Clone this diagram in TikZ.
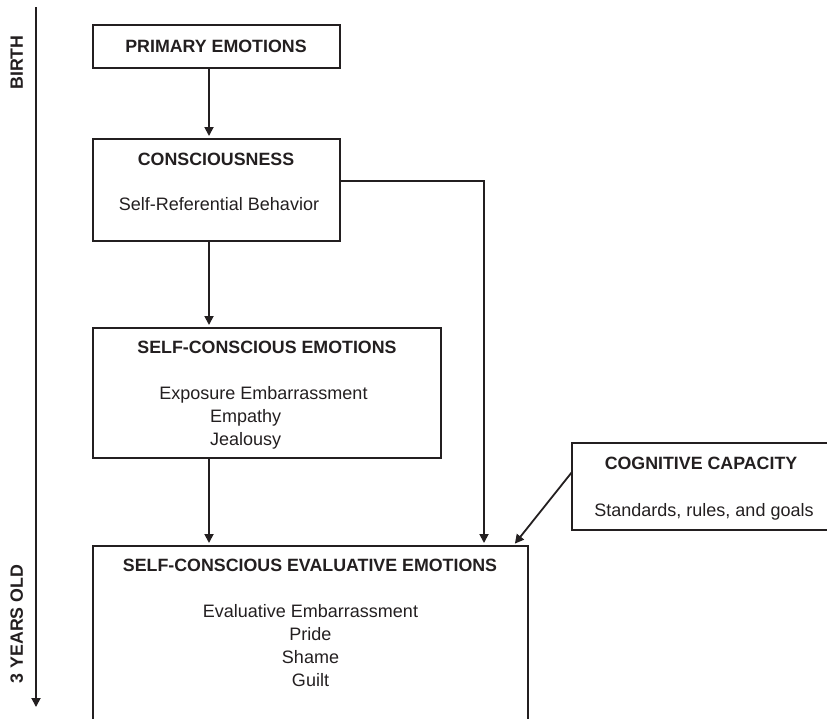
\documentclass[tikz,border=0pt]{standalone}
\usepackage{fontspec}
\setmainfont{Liberation Sans}
\usetikzlibrary{arrows.meta}
\definecolor{ink}{HTML}{231F20}
\tikzset{
  box/.style={draw=ink, line width=1.8pt, inner sep=0pt, outer sep=0pt, anchor=north west},
  ttl/.style={text=ink, inner sep=0pt, anchor=base, font=\fontsize{17.8}{20}\selectfont\bfseries},
  bdy/.style={text=ink, inner sep=0pt, anchor=base, font=\fontsize{18}{22}\selectfont},
  side/.style={text=ink, inner sep=0pt, anchor=base, rotate=90, font=\fontsize{17.8}{20}\selectfont\bfseries},
  arr/.style={draw=ink, line width=1.8pt, -{Triangle[length=9pt,width=9pt]}, shorten >=3pt},
}
\begin{document}
\begin{tikzpicture}[x=1pt,y=-1pt]
\useasboundingbox (0,0) rectangle (827,718);
\clip (0,0) rectangle (827,718);
% timeline
\coordinate (tTop) at (36,7);
\coordinate (tBot) at (36,707);
\draw[arr, shorten >=0pt] (tTop) -- (tBot);
\node[side] (birth) at (23,62.5) {BIRTH};
\node[side] (three) at (23,624) {3 YEARS OLD};
% boxes
\node[box, minimum width=247pt, minimum height=43pt] (P) at (93,25) {};
\node[box, minimum width=247pt, minimum height=102pt] (C) at (93,139) {};
\node[box, minimum width=348pt, minimum height=130pt] (S) at (93,328) {};
\node[box, minimum width=435pt, minimum height=220pt] (E) at (93,546) {};
\node[box, minimum width=300pt, minimum height=87pt] (G) at (572,443) {};
% texts
\node[ttl] (pT) at (216,52.5) {PRIMARY EMOTIONS};
\node[ttl] (cT) at (216,165) {CONSCIOUSNESS};
\node[bdy] (cB) at (219,210) {Self-Referential Behavior};
\node[ttl] (sT) at (267,353) {SELF-CONSCIOUS EMOTIONS};
\node[bdy] (sB1) at (263.5,399) {Exposure Embarrassment};
\node[bdy, anchor=base west] (sB2) at (210,422) {Empathy};
\node[bdy, anchor=base west] (sB3) at (210,445.5) {Jealousy};
\node[ttl] (eT) at (310,571.7) {SELF-CONSCIOUS EVALUATIVE EMOTIONS};
\node[bdy] (eB1) at (310.5,617) {Evaluative Embarrassment};
\node[bdy] (eB2) at (310.5,640) {Pride};
\node[bdy] (eB3) at (310.5,663) {Shame};
\node[bdy] (eB4) at (310.5,686) {Guilt};
\node[ttl] (gT) at (701,469) {COGNITIVE CAPACITY};
\node[bdy] (gB) at (704,516) {Standards, rules, and goals};
% connectors
\coordinate (colA) at (209,0);
\coordinate (colB) at (484,0);
\coordinate (colC) at (513,0);
\draw[arr] (P.south -| colA) -- (C.north -| colA);
\draw[arr] (C.south -| colA) -- (S.north -| colA);
\draw[arr] (S.south -| colA) -- (E.north -| colA);
\draw[arr] ([yshift=-42pt]C.north east) -| (E.north -| colB);
\draw[arr] ([yshift=-29pt]G.north west) -- (E.north -| colC);
\end{tikzpicture}
\end{document}
